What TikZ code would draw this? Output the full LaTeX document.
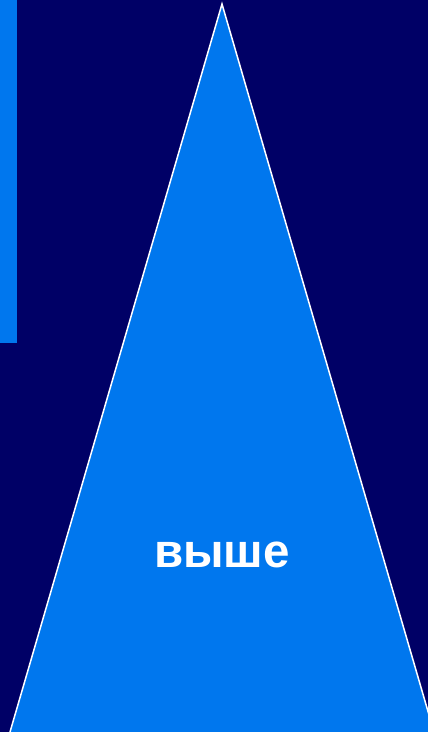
\documentclass[tikz,border=0pt]{standalone}
\usepackage{fontspec}
\setmainfont{Liberation Sans}
\definecolor{bg}{RGB}{0,0,102}
\definecolor{tri}{RGB}{0,119,238}
\begin{document}
\begin{tikzpicture}[x=1pt,y=-1pt,
  lbl/.style={text=white,font=\bfseries\fontsize{47.5}{52}\selectfont,inner sep=0pt}]
\useasboundingbox (0,0) rectangle (428,732);
\fill[bg] (0,0) rectangle (428,732);
\begin{scope}
\clip (0,0) rectangle (428,732);
\fill[tri] (0,0) rectangle (17,343);
\coordinate (apex) at (222,4);
\coordinate (bl) at (10,732);
\coordinate (br) at (434,732);
\filldraw[fill=tri,draw=white,line width=1.5pt] (bl) -- (apex) -- (br);
\fill[tri] (bl) -- (br) -- ++(0,5) -- ++(-430,0) -- cycle;
\end{scope}
\node[lbl,anchor=base] (t) at (222,567) {выше};
\end{tikzpicture}
\end{document}
